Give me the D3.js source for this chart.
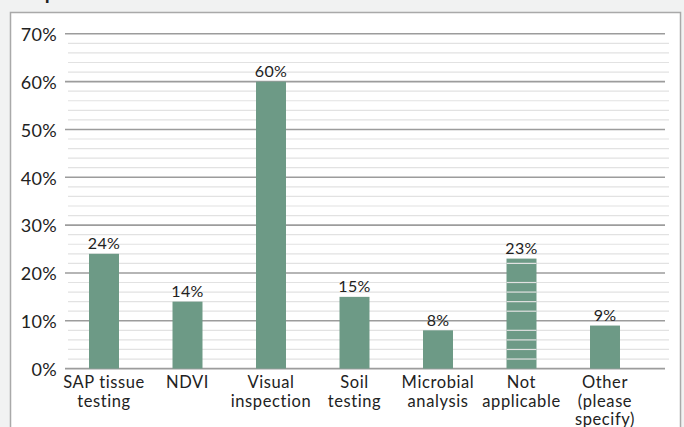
<!DOCTYPE html>
<html>
<head>
<meta charset="utf-8">
<script src="https://cdn.jsdelivr.net/npm/d3@7"></script>
<style>
  html, body { margin: 0; padding: 0; background: #f1f2f2; }
  svg { display: block; }
  text { font-family: Lato, "Open Sans", sans-serif; fill: #222222; }
</style>
</head>
<body>
<svg id="chart" width="684" height="427"></svg>
<script>
// Survey answers: share of respondents per method
const categories = [
  ["SAP tissue", "testing"],
  ["NDVI"],
  ["Visual", "inspection"],
  ["Soil", "testing"],
  ["Microbial", "analysis"],
  ["Not", "applicable"],
  ["Other", "(please", "specify)"]
];
const values = [24, 14, 60, 15, 8, 23, 9];
const majorTicks = [0, 10, 20, 30, 40, 50, 60, 70];
const minorTicks = [2, 4, 6, 8, 12, 14, 16, 18, 22, 24, 26, 28, 32, 34, 36, 38,
                    42, 44, 46, 48, 52, 54, 56, 58, 62, 64, 66, 68];

const svg = d3.select("#chart");
const keys = categories.map(c => c.join(" "));

const x = d3.scaleBand()
  .domain(keys)
  .range([62.25, 646.75])
  .paddingInner(0.641)
  .paddingOuter(0.3205);

const y = d3.scaleLinear().domain([0, 70]).range([368.6, 33.8]);

// Title (runs off the top edge)
svg.append("text")
  .attr("x", 13).attr("y", -1)
  .style("font-weight", "700").style("font-size", "20px")
  .text("Crop");

// Panel
svg.append("rect")
  .attr("x", 10.5).attr("y", 12.5)
  .attr("width", 670).attr("height", 430)
  .attr("fill", "#ffffff")
  .attr("stroke", "#a9a9a9").attr("stroke-width", 1.5);

// Minor gridlines
svg.append("g").selectAll("line").data(minorTicks).join("line")
  .attr("x1", 68).attr("x2", 669)
  .attr("y1", d => y(d)).attr("y2", d => y(d))
  .attr("stroke", "#e2e2e2").attr("stroke-width", 1.2);

// Major gridlines
svg.append("g").selectAll("line").data(majorTicks).join("line")
  .attr("x1", 65).attr("x2", 665)
  .attr("y1", d => y(d)).attr("y2", d => y(d))
  .attr("stroke", "#9c9c9c").attr("stroke-width", 1.6);

// Y-axis labels
svg.append("g").selectAll("text").data(majorTicks).join("text")
  .attr("x", 57).attr("y", d => y(d) + 1)
  .attr("dy", "0.35em")
  .attr("text-anchor", "end")
  .style("font-size", "18px")
  .style("letter-spacing", "0.3px")
  .text(d => d + "%");

// Bars
svg.append("g").selectAll("rect").data(values).join("rect")
  .attr("x", (d, i) => x(keys[i]))
  .attr("width", x.bandwidth())
  .attr("y", d => y(d))
  .attr("height", d => y(0) - y(d))
  .attr("fill", "#6d9a86");

// Minor gridlines showing through the "Not applicable" bar
const naIdx = 5;
svg.append("g").selectAll("line")
  .data(minorTicks.filter(t => t < values[naIdx])).join("line")
  .attr("x1", x(keys[naIdx])).attr("x2", x(keys[naIdx]) + x.bandwidth())
  .attr("y1", d => y(d)).attr("y2", d => y(d))
  .attr("stroke", "#e2e2e2").attr("stroke-width", 1.2);

// Value labels
svg.append("g").selectAll("text").data(values).join("text")
  .attr("x", (d, i) => x(keys[i]) + x.bandwidth() / 2)
  .attr("y", d => y(d) - 4.5)
  .attr("text-anchor", "middle")
  .style("font-size", "16px")
  .style("letter-spacing", "0.3px")
  .text(d => d + "%");

// Category labels
const cat = svg.append("g").selectAll("text").data(categories).join("text")
  .attr("x", (d, i) => x(keys[i]) + x.bandwidth() / 2)
  .attr("y", 388)
  .attr("text-anchor", "middle")
  .style("font-size", "16.5px")
  .style("letter-spacing", "0.6px");
cat.selectAll("tspan").data(d => d).join("tspan")
  .attr("x", function () { return d3.select(this.parentNode).attr("x"); })
  .attr("dy", (d, i) => i === 0 ? 0 : 18.7)
  .text(d => d);
</script>
</body>
</html>
